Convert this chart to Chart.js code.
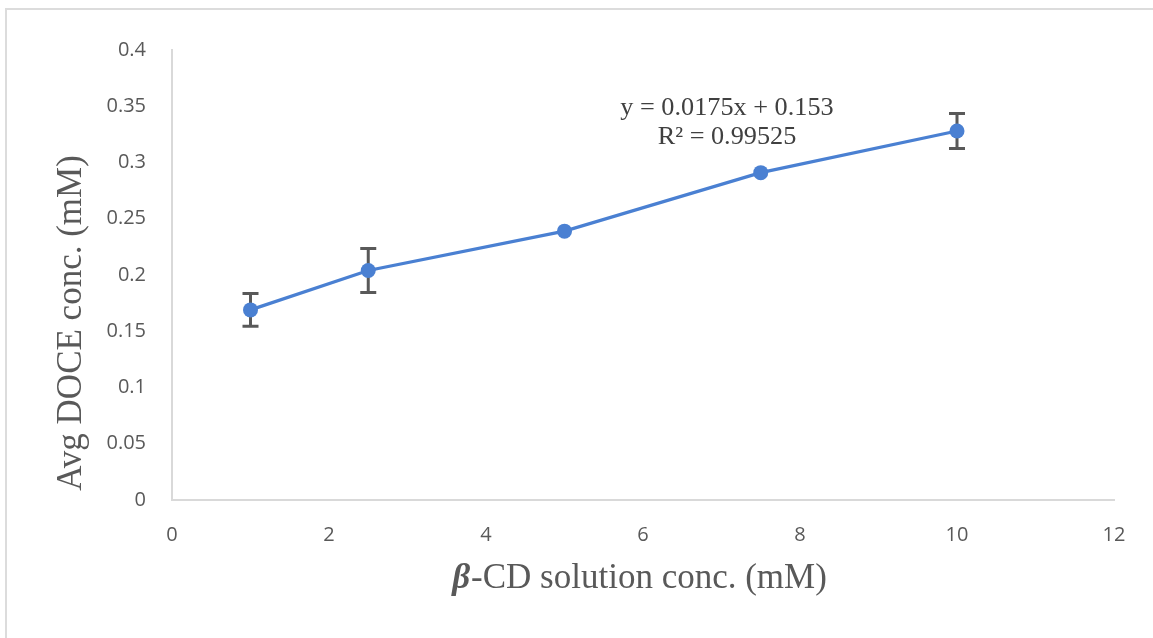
<!DOCTYPE html>
<html>
<head>
<meta charset="utf-8">
<script src="https://cdn.jsdelivr.net/npm/chart.js@4.4.1/dist/chart.umd.min.js"></script>
<style>
  html, body { margin: 0; padding: 0; background: #fff; overflow: hidden; }
  #marco { position: absolute; left: 5px; top: 8px; width: 1160px; height: 640px;
           border-left: 2px solid #dcdcdc; border-top: 2px solid #dcdcdc; }
  #grafico { position: absolute; left: 0; top: 0; }
</style>
</head>
<body>
<div id="marco"></div>
<canvas id="grafico" width="1153" height="638"></canvas>
<script>
// datos
const concCD = [1, 2.5, 5, 7.5, 10];
const docePromedio = [0.169, 0.204, 0.239, 0.291, 0.328];
const errorDoce = [0.0145, 0.0195, 0, 0, 0.0155];
const ticksX = [0, 2, 4, 6, 8, 10, 12];
const ticksY = [0, 0.05, 0.1, 0.15, 0.2, 0.25, 0.3, 0.35, 0.4];
const ecuacion = ['y = 0.0175x + 0.153', 'R\u00B2 = 0.99525'];
const posEcuacion = { x: 7.07, y: [0.3484, 0.3227] };

const azul = '#4a80d2';
const gris = '#595959';
const serif = '"Liberation Serif", "Times New Roman", serif';

// barras de error (se dibujan antes de los puntos)
const barrasError = {
    id: 'barrasError',
    beforeDatasetsDraw(chart) {
        const ctx = chart.ctx;
        const sx = chart.scales.x, sy = chart.scales.y;
        ctx.save();
        ctx.strokeStyle = gris;
        ctx.lineWidth = 3;
        concCD.forEach((x, i) => {
            if (!errorDoce[i]) return;
            const px = sx.getPixelForValue(x);
            const top = sy.getPixelForValue(docePromedio[i] + errorDoce[i]);
            const bot = sy.getPixelForValue(docePromedio[i] - errorDoce[i]);
            ctx.beginPath();
            ctx.moveTo(px, top); ctx.lineTo(px, bot);
            ctx.moveTo(px - 8, top); ctx.lineTo(px + 8, top);
            ctx.moveTo(px - 8, bot); ctx.lineTo(px + 8, bot);
            ctx.stroke();
        });
        ctx.restore();
    }
};

// titulos de ejes y ecuacion de la tendencia
const textos = {
    id: 'textos',
    afterDraw(chart) {
        const ctx = chart.ctx;
        const sx = chart.scales.x, sy = chart.scales.y;
        ctx.save();
        ctx.textBaseline = 'middle';

        // ecuacion
        ctx.font = '25px ' + serif;
        ctx.textAlign = 'center';
        ctx.fillStyle = '#404040';
        ecuacion.forEach((t, i) => {
            const px = sx.getPixelForValue(posEcuacion.x);
            const py = sy.getPixelForValue(posEcuacion.y[i]);
            ctx.setTransform(1.05, 0, 0, 1, px, py);
            ctx.fillText(t, 0, 0);
        });

        // titulo eje Y
        ctx.fillStyle = gris;
        ctx.setTransform(1, 0, 0, 1, 72, 323);
        ctx.rotate(-Math.PI / 2);
        ctx.font = '35px ' + serif;
        ctx.fillText('Avg DOCE conc. (mM)', 0, 0);

        // titulo eje X (beta en negrita cursiva)
        ctx.setTransform(1, 0, 0, 1, 639, 579);
        const beta = '\u03B2';
        const resto = '-CD solution conc. (mM)';
        const fBeta = 'bold italic 35px ' + serif;
        const fResto = '35px ' + serif;
        ctx.font = fBeta;
        const wBeta = ctx.measureText(beta).width;
        ctx.font = fResto;
        const wResto = ctx.measureText(resto).width;
        const x0 = -(wBeta + wResto) / 2;
        ctx.textAlign = 'left';
        ctx.font = fBeta;
        ctx.fillText(beta, x0, 0);
        ctx.font = fResto;
        ctx.fillText(resto, x0 + wBeta + 1, 0);
        ctx.restore();
    }
};

new Chart(document.getElementById('grafico'), {
    type: 'scatter',
    data: {
        datasets: [{
            data: concCD.map((x, i) => ({ x: x, y: docePromedio[i] })),
            showLine: true,
            borderColor: azul,
            backgroundColor: azul,
            borderWidth: 3.3,
            pointRadius: 7.5,
            pointHoverRadius: 7.5,
            pointBorderWidth: 0,
            tension: 0
        }]
    },
    options: {
        responsive: false,
        animation: false,
        events: [],
        layout: { padding: { left: 0, top: 50, right: 39, bottom: 0 } },
        plugins: { legend: { display: false }, tooltip: { enabled: false } },
        scales: {
            x: {
                type: 'linear',
                min: 0, max: 12,
                afterBuildTicks: s => { s.ticks = ticksX.map(v => ({ value: v })); },
                afterFit: s => { s.height = 138; },
                grid: { display: false, drawTicks: false },
                border: { display: true, color: '#d9d9d9', width: 2 },
                ticks: { color: gris, padding: 23, font: { family: '"Open Sans", sans-serif', size: 20 } }
            },
            y: {
                type: 'linear',
                min: 0, max: 0.4,
                afterBuildTicks: s => { s.ticks = ticksY.map(v => ({ value: v })); },
                afterFit: s => { s.width = 172; },
                grid: { display: false, drawTicks: false },
                border: { display: true, color: '#d9d9d9', width: 2 },
                ticks: { color: gris, padding: 26, font: { family: '"Open Sans", sans-serif', size: 20 },
                         callback: v => String(+v.toFixed(2)) }
            }
        }
    },
    plugins: [barrasError, textos]
});
</script>
</body>
</html>
